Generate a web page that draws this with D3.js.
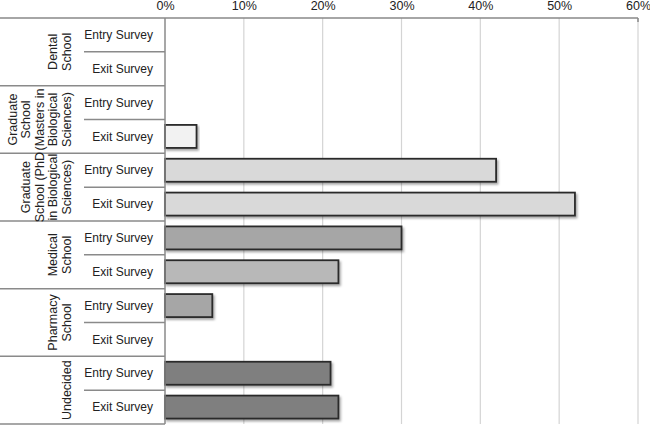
<!DOCTYPE html>
<html>
<head>
<meta charset="utf-8">
<script src="https://cdn.jsdelivr.net/npm/d3@7"></script>
<style>
  html, body { margin: 0; padding: 0; background: #fff; }
  svg { display: block; font-family: "Liberation Sans", Arial, sans-serif; }
</style>
</head>
<body>
<svg id="chart" width="650" height="426"></svg>
<script>
// ---- data ----
const categories = ["Dental School", "Graduate School (Masters in Biological Sciences)", "Graduate School (PhD in Biological Sciences)", "Medical School", "Pharmacy School", "Undecided"];
const categoryLines = [
  ["Dental", "School"],
  ["Graduate", "School", "(Masters in", "Biological", "Sciences)"],
  ["Graduate", "School (PhD", "in Biological", "Sciences)"],
  ["Medical", "School"],
  ["Pharmacy", "School"],
  ["Undecided"]
];
const surveys = ["Entry Survey", "Exit Survey"];
const entryValues = [0, 0, 42, 30, 6, 21];
const exitValues  = [0, 4, 52, 22, 0, 22];
const entryColors = ["#d9d9d9", "#f2f2f2", "#d9d9d9", "#a6a6a6", "#a6a6a6", "#7f7f7f"];
const exitColors  = ["#d9d9d9", "#f2f2f2", "#d9d9d9", "#b8b8b8", "#a6a6a6", "#7f7f7f"];
const tickValues = [0, 10, 20, 30, 40, 50, 60];

// ---- layout ----
const svg = d3.select("#chart");
const plotLeft = 165, plotRight = 638, plotTop = 18, plotBottom = 424;

const rows = [];
categories.forEach((c, i) => {
  rows.push({ cat: c, ci: i, survey: surveys[0], value: entryValues[i], color: entryColors[i], key: c + "|" + surveys[0] });
  rows.push({ cat: c, ci: i, survey: surveys[1], value: exitValues[i], color: exitColors[i], key: c + "|" + surveys[1] });
});

const x = d3.scaleLinear().domain([0, 60]).range([plotLeft, plotRight]);
const y = d3.scaleBand().domain(rows.map(r => r.key)).range([plotTop, plotBottom]).paddingInner(0.32).paddingOuter(0.16);
const rowH = (plotBottom - plotTop) / rows.length;
const rowTop = k => plotTop + rows.findIndex(r => r.key === k) * rowH;

// defs: drop shadow
const defs = svg.append("defs");
const f = defs.append("filter").attr("id", "shadow").attr("x", "-5%").attr("y", "-20%").attr("width", "115%").attr("height", "160%");
f.append("feDropShadow").attr("dx", 1.5).attr("dy", 2).attr("stdDeviation", 1.2).attr("flood-color", "#000").attr("flood-opacity", 0.35);

// gridlines
svg.append("g").selectAll("line").data(tickValues.slice(1)).join("line")
  .attr("x1", d => x(d)).attr("x2", d => x(d))
  .attr("y1", plotTop).attr("y2", plotBottom)
  .attr("stroke", "#d4d4d4").attr("stroke-width", 1.2);

// top axis
const axis = d3.axisTop(x).tickValues(tickValues).tickFormat(d => d + "%").tickSize(0).tickPadding(8);
const ag = svg.append("g").attr("transform", `translate(0,${plotTop})`).call(axis);
ag.select(".domain").remove();
ag.selectAll("text").attr("font-size", 12.5).attr("fill", "#222").attr("font-family", "Liberation Sans, Arial, sans-serif");
svg.append("line").attr("x1", 0).attr("x2", plotRight).attr("y1", plotTop).attr("y2", plotTop)
  .attr("stroke", "#888").attr("stroke-width", 1.5);
svg.append("line").attr("x1", plotRight).attr("x2", plotRight).attr("y1", plotTop).attr("y2", plotTop + 4)
  .attr("stroke", "#888").attr("stroke-width", 1.5);

// bars
svg.append("g").selectAll("rect").data(rows.filter(r => r.value > 0)).join("rect")
  .attr("x", x(0))
  .attr("y", d => y(d.key))
  .attr("width", d => x(d.value) - x(0))
  .attr("height", y.bandwidth())
  .attr("fill", d => d.color)
  .attr("stroke", "#2b2b2b").attr("stroke-width", 1.8)
  .attr("filter", "url(#shadow)");

// left separators
const sep = svg.append("g");
categories.forEach((c, i) => {
  const top = plotTop + i * 2 * rowH;
  sep.append("line").attr("x1", 0).attr("x2", plotLeft).attr("y1", top + 2 * rowH).attr("y2", top + 2 * rowH)
    .attr("stroke", "#8a8a8a").attr("stroke-width", 1.5);
  sep.append("line").attr("x1", 84).attr("x2", plotLeft).attr("y1", top + rowH).attr("y2", top + rowH)
    .attr("stroke", "#8a8a8a").attr("stroke-width", 1.5);
});
// y axis line
svg.append("line").attr("x1", plotLeft).attr("x2", plotLeft).attr("y1", plotTop).attr("y2", plotBottom)
  .attr("stroke", "#8a8a8a").attr("stroke-width", 1.5);

// survey labels
svg.append("g").selectAll("text").data(rows).join("text")
  .attr("x", 153)
  .attr("y", d => rowTop(d.key) + rowH / 2)
  .attr("dy", "0.35em")
  .attr("text-anchor", "end")
  .attr("font-size", 12)
  .attr("fill", "#222")
  .text(d => d.survey);

// category labels (rotated)
const lineH = 13.6;
categoryLines.forEach((lines, i) => {
  const cy = plotTop + (i * 2 + 1) * rowH;
  const n = lines.length;
  const t = svg.append("text")
    .attr("transform", `translate(0,${cy}) rotate(-90)`)
    .attr("text-anchor", "middle")
    .attr("font-size", 12.5)
    .attr("fill", "#222");
  lines.forEach((ln, j) => {
    t.append("tspan").attr("x", 0).attr("y", 71 - (n - 1 - j) * lineH).text(ln);
  });
});
</script>
</body>
</html>
